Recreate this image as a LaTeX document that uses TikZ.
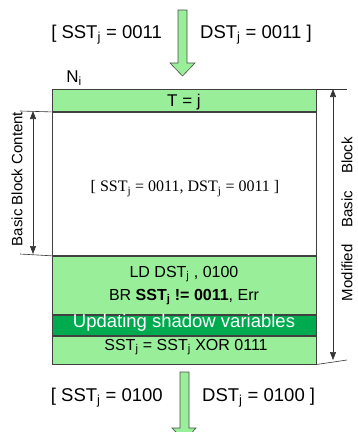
\documentclass[tikz,border=0pt]{standalone}
\usepackage{fontspec}
\setmainfont{Liberation Sans}
\newfontfamily\serifpart{Liberation Serif}
\usepackage{tikz}
\usetikzlibrary{arrows.meta}
\usepackage{xcolor}
\definecolor{lightgrn}{RGB}{153,238,153}
\definecolor{darkgrn}{RGB}{0,170,79}
\tikzset{
  sect/.style={draw=black!75, line width=0.9pt, minimum width=264pt, inner sep=0pt, anchor=north},
  txt/.style={font=\fontsize{16}{18}\selectfont, inner sep=0pt, anchor=base},
  bigtxt/.style={font=\fontsize{18.5}{20}\selectfont, inner sep=0pt},
  dimtxt/.style={font=\fontsize{15}{17}\selectfont, inner sep=0pt, rotate=90},
  dimline/.style={draw=black!80, line width=0.6pt},
  dimarrow/.style={dimline, {Triangle[length=8pt,width=6pt]}-{Triangle[length=8pt,width=6pt]}},
  blockarrow/.style={fill=lightgrn, draw=black!70, line width=0.6pt},
}

\begin{document}
\begin{tikzpicture}[x=1pt,y=-1pt]
\useasboundingbox (0,0) rectangle (357,432);
\clip (0,0) rectangle (357,432);
% arrow into the block
\draw[blockarrow] (178,10) -- (187,10) -- (187,63) -- (195,63) -- (182.5,76) -- (170,63) -- (178,63) -- cycle;
\node[bigtxt, anchor=base east] (inleft) at (162,38) {[ SST\textsubscript{j} = 0011};
\node[bigtxt, anchor=base west] (inright) at (200,38) {DST\textsubscript{j} = 0011 ]};
\node[font=\fontsize{17}{19}\selectfont, inner sep=0pt] (ni) at (74,78) {N\textsubscript{i}};

% the block
\node[sect, fill=lightgrn, minimum height=22pt] (tag) at (184,89) {};
\node[sect, fill=white, minimum height=143pt] (content) at (tag.south) {};
\node[sect, fill=lightgrn, minimum height=58pt] (check) at (content.south) {};
\node[sect, fill=darkgrn, minimum height=20pt] (update) at (check.south) {};
\node[sect, fill=lightgrn, minimum height=28pt] (shadow) at (update.south) {};

\node[txt, font=\fontsize{17}{19}\selectfont] (tagtxt) at (184,106.5) {T = j};
\node[txt, font=\serifpart\fontsize{16}{18}\selectfont] (contenttxt) at (185,191.5)
  {[ SST\textsubscript{j} = 0011, DST\textsubscript{j} = 0011 ]};
\node[txt] (ld) at (184,277) {LD DST\textsubscript{j} , 0100};
\node[txt] (br) at (184,300) {BR \textbf{SST\textsubscript{j} != 0011}, Err};
\node[txt, font=\fontsize{18.5}{20}\selectfont, text=white] (updtxt) at (184,327.5) {Updating shadow variables};
\node[txt] (xor) at (186,350) {SST\textsubscript{j} = SST\textsubscript{j} XOR 0111};

% basic block content
\coordinate (lt) at (20,111);
\coordinate (lb) at (20,254);
\draw[dimline] (lt) -- (content.north west);
\draw[dimline] (lb) -- (content.south west);
\draw[dimarrow] (33,111) -- (33,254);
\node[dimtxt] (bbc) at (17,179) {Basic Block Content};

% modified basic block
\coordinate (rt) at (347,89);
\coordinate (rb) at (347,360);
\draw[dimline] (tag.north east) -- (rt);
\draw[dimline] (shadow.south east) -- (rb);
\draw[dimarrow] (333,89) -- (333,360);
\node[dimtxt] (mbb) at (347,219) {Modified\hspace{17pt}Basic\hspace{17pt}Block};

% arrow out of the block
\draw[blockarrow] (180,372) -- (189,372) -- (189,428) -- (196,428) -- (184.5,441) -- (172,428) -- (180,428) -- cycle;
\node[bigtxt, anchor=base east] (outleft) at (163,401) {[ SST\textsubscript{j} = 0100};
\node[bigtxt, anchor=base west] (outright) at (202,401) {DST\textsubscript{j} = 0100 ]};
\end{tikzpicture}
\end{document}
